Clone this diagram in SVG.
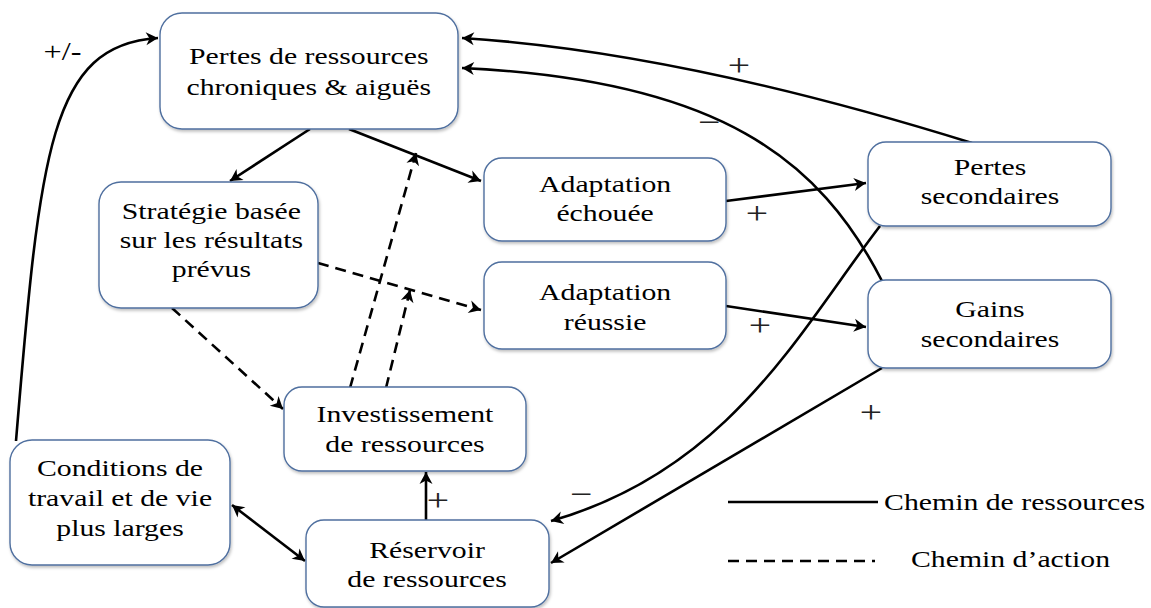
<svg xmlns="http://www.w3.org/2000/svg" width="1151" height="608" viewBox="0 0 1151 608">
<style>
.box{fill:#fff;stroke:#4f6f9f;stroke-width:1.4;filter:url(#sh)}
.lbl{font-family:"Liberation Serif","Times New Roman",serif;font-size:24px;fill:#000;text-anchor:middle}
.sgn{font-family:"Liberation Serif","Times New Roman",serif;font-size:32px;fill:#222;text-anchor:middle}
.pm{font-family:"Liberation Serif","Times New Roman",serif;font-size:26px;fill:#000;text-anchor:middle}
.leg{font-family:"Liberation Serif","Times New Roman",serif;font-size:24px;fill:#000;text-anchor:start}
.c{fill:none;stroke:#000;stroke-width:2.6}
.d{fill:none;stroke:#000;stroke-width:2.6;stroke-dasharray:11 7}
</style>
<defs>
<filter id="sh" x="-10%" y="-10%" width="120%" height="130%"><feDropShadow dx="1" dy="2" stdDeviation="1.5" flood-color="#000" flood-opacity="0.25"/></filter>
<marker id="ar" viewBox="-1 -8 15 16" refX="12" refY="0" markerWidth="15" markerHeight="16" markerUnits="userSpaceOnUse" orient="auto-start-reverse">
<path d="M0,-6.5 L12,0 L0,6.5 L3.5,0 z" fill="#000"/>
</marker>
</defs>
<g id="connectors">
<path class="c" d="M16,441 C40,150 50,45 158,38" marker-end="url(#ar)"/>
<line class="c" x1="310" y1="129" x2="230" y2="181" marker-end="url(#ar)"/>
<line class="c" x1="349" y1="129" x2="481" y2="181" marker-end="url(#ar)"/>
<line class="c" x1="726" y1="201" x2="866" y2="183" marker-end="url(#ar)"/>
<line class="c" x1="726" y1="306" x2="866" y2="327" marker-end="url(#ar)"/>
<path class="c" d="M972,143 Q680,52 462,38" marker-end="url(#ar)"/>
<path class="c" d="M882,281 C820,160 720,80 462,68" marker-end="url(#ar)"/>
<path class="c" d="M880,226 C800,330 730,470 551,521" marker-end="url(#ar)"/>
<line class="c" x1="882" y1="368" x2="551" y2="563" marker-end="url(#ar)"/>
<line class="c" x1="426" y1="520" x2="426" y2="472" marker-end="url(#ar)"/>
<line class="c" x1="232" y1="505" x2="305" y2="561" marker-start="url(#ar)" marker-end="url(#ar)"/>
<line class="d" x1="172" y1="308" x2="283" y2="409" marker-end="url(#ar)"/>
<line class="d" x1="318" y1="263" x2="481" y2="310" marker-end="url(#ar)"/>
<line class="d" x1="350" y1="388" x2="416" y2="153" marker-end="url(#ar)"/>
<line class="d" x1="386" y1="388" x2="410" y2="290" marker-end="url(#ar)"/>
<line class="c" x1="728" y1="502" x2="878" y2="502"/>
<line class="d" x1="728" y1="561" x2="875" y2="561"/>
</g>
<g id="n-pertes"><rect class="box" x="160" y="13" width="298" height="116" rx="22"/></g>
<g id="n-strategie"><rect class="box" x="99" y="182" width="219" height="126" rx="22"/></g>
<g id="n-echouee"><rect class="box" x="484" y="158" width="242" height="83" rx="18"/></g>
<g id="n-reussie"><rect class="box" x="484" y="262" width="242" height="87" rx="18"/></g>
<g id="n-psec"><rect class="box" x="868" y="142" width="243" height="84" rx="18"/></g>
<g id="n-gsec"><rect class="box" x="868" y="280" width="243" height="88" rx="18"/></g>
<g id="n-invest"><rect class="box" x="284" y="387" width="242" height="84" rx="18"/></g>
<g id="n-cond"><rect class="box" x="10" y="440" width="220" height="125" rx="22"/></g>
<g id="n-reserv"><rect class="box" x="306" y="520" width="243" height="87" rx="18"/></g>
<g id="texts" transform="scale(1.24,1)">
<text class="lbl" x="249" y="64">Pertes de ressources</text>
<text class="lbl" x="249" y="95">chroniques &amp; aiguës</text>
<text class="lbl" x="170.5" y="219">Stratégie basée</text>
<text class="lbl" x="170.5" y="248">sur les résultats</text>
<text class="lbl" x="170.5" y="277">prévus</text>
<text class="lbl" x="488" y="192">Adaptation</text>
<text class="lbl" x="488" y="221">échouée</text>
<text class="lbl" x="488" y="300">Adaptation</text>
<text class="lbl" x="488" y="330">réussie</text>
<text class="lbl" x="798.4" y="175">Pertes</text>
<text class="lbl" x="798.4" y="204">secondaires</text>
<text class="lbl" x="798.4" y="317">Gains</text>
<text class="lbl" x="798.4" y="347">secondaires</text>
<text class="lbl" x="326.6" y="422">Investissement</text>
<text class="lbl" x="326.6" y="452">de ressources</text>
<text class="lbl" x="96.8" y="476">Conditions de</text>
<text class="lbl" x="96.8" y="506">travail et de vie</text>
<text class="lbl" x="96.8" y="536">plus larges</text>
<text class="lbl" x="344.4" y="558">Réservoir</text>
<text class="lbl" x="344.4" y="587">de ressources</text>
<text class="leg" x="713" y="510">Chemin de ressources</text>
<text class="leg" x="734.7" y="567">Chemin d’action</text>
<text class="pm" x="50.4" y="60">+/-</text>
<text class="sgn" x="596" y="76">+</text>
<text class="sgn" x="571.8" y="133">−</text>
<text class="sgn" x="610.5" y="224">+</text>
<text class="sgn" x="612.9" y="336">+</text>
<text class="sgn" x="702.4" y="423">+</text>
<text class="sgn" x="468.5" y="505">−</text>
<text class="sgn" x="353.2" y="511">+</text>
</g>
</svg>
